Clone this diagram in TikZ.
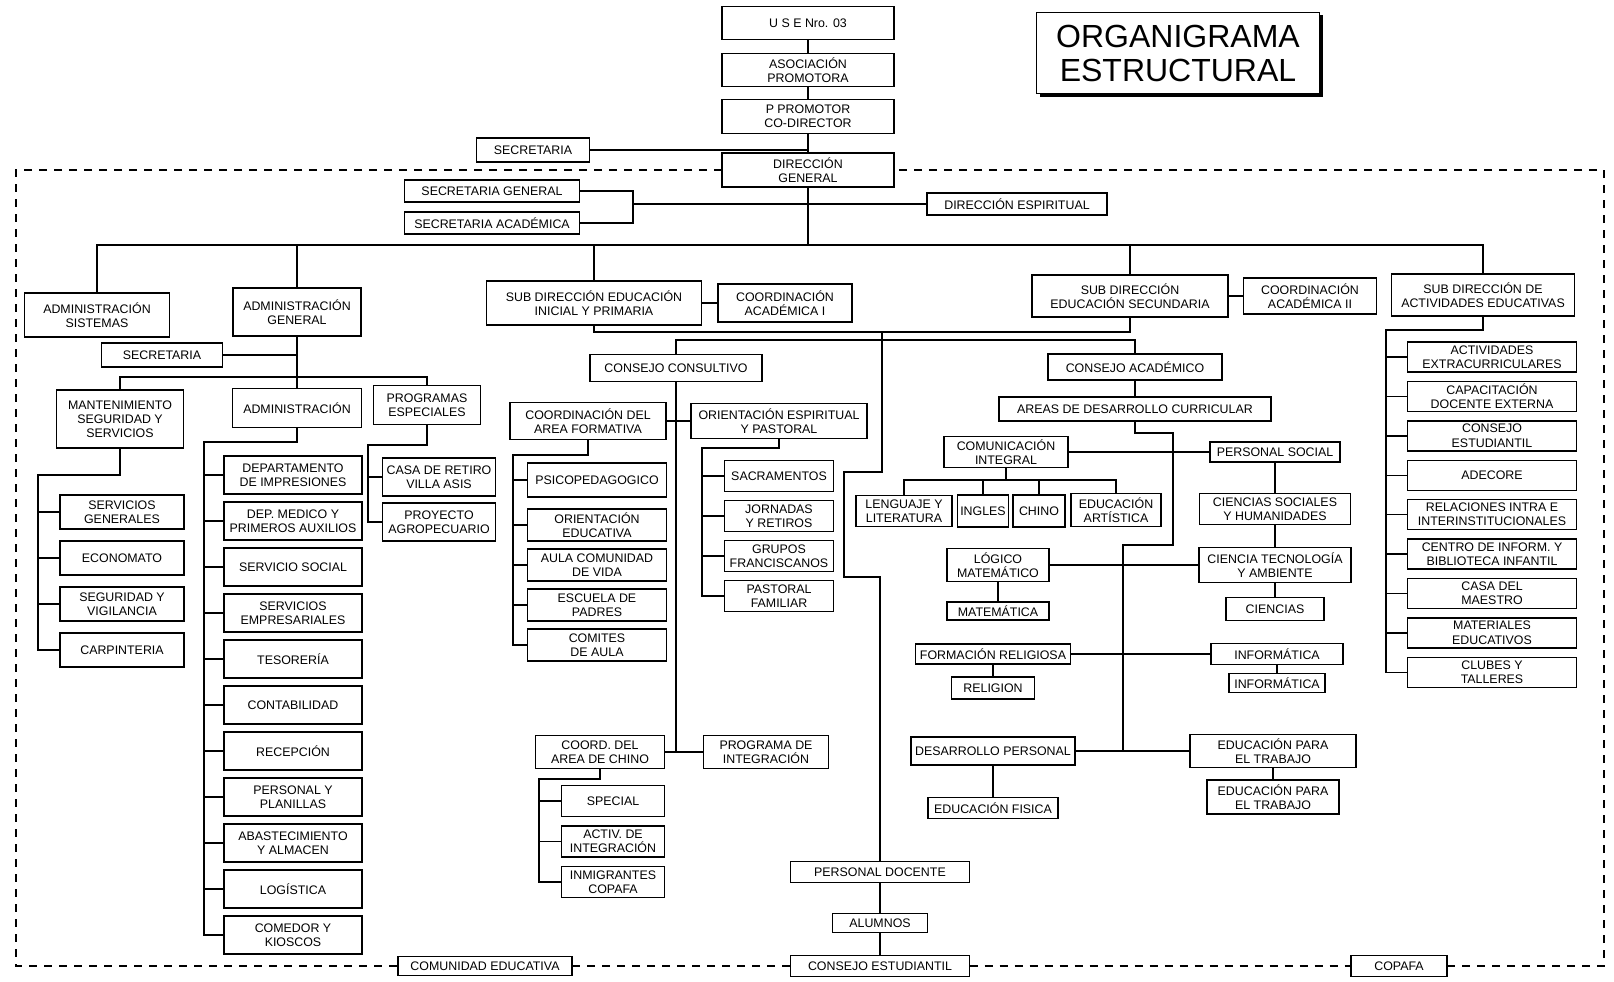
\documentclass[tikz,border=0pt]{standalone}
\usepackage{fontspec}
\setmainfont{Liberation Sans}
\usetikzlibrary{positioning,shadows}
\tikzset{
    orgbox/.style={draw, line width=1.4pt, align=center, inner sep=1.5pt, outer sep=0pt, fill=white},
    orgline/.style={line width=1.4pt},
    orgdashed/.style={line width=1.2pt, dash pattern=on 8pt off 7pt}
}

\begin{document}
\begin{tikzpicture}[x=1pt, y=-1pt, font=\fontsize{12.4}{14.2}\selectfont]
        \useasboundingbox (0,0) rectangle (1614,982);

        \node[orgbox, minimum width=172pt, minimum height=33pt] (use) at (808,23) {U S E Nro. 03};
        \node[orgbox, minimum width=172pt, minimum height=33pt, below=14pt of use] (asociacion)
            {ASOCIACIÓN\\PROMOTORA};
        \node[orgbox, minimum width=172pt, minimum height=34pt, below=13pt of asociacion] (promotor)
            {P PROMOTOR\\CO-DIRECTOR};
        \node[orgbox, minimum width=172pt, minimum height=34pt] (direccion) at (808,170)
            {DIRECCIÓN\\GENERAL};
        \node[orgbox, minimum width=113pt, minimum height=24pt] (secretaria) at (533,150) {SECRETARIA};
        \node[orgbox, minimum width=283pt, minimum height=81pt, font=\fontsize{32}{34}\selectfont,
            drop shadow={shadow xshift=3pt, shadow yshift=-3pt, opacity=1, fill=black}] (titulo)
            at (1178,53) {ORGANIGRAMA\\ESTRUCTURAL};

        \node[orgbox, minimum width=175pt, minimum height=22pt] (secgeneral) at (492,191) {SECRETARIA GENERAL};
        \node[orgbox, minimum width=175pt, minimum height=22pt] (secacademica) at (492,223) {SECRETARIA ACADÉMICA};
        \node[orgbox, minimum width=180pt, minimum height=22pt] (espiritual) at (1017,204) {DIRECCIÓN ESPIRITUAL};
        \coordinate (secjoin) at (633,204);
        \coordinate (mainbus) at (0,245);

        \node[orgbox, minimum width=145pt, minimum height=44pt] (adsistemas) at (97,315)
            {ADMINISTRACIÓN\\SISTEMAS};
        \node[orgbox, minimum width=128pt, minimum height=48pt] (adgeneral) at (297,312)
            {ADMINISTRACIÓN\\GENERAL};
        \node[orgbox, minimum width=215pt, minimum height=44pt] (subinicial) at (594,303)
            {SUB DIRECCIÓN EDUCACIÓN\\INICIAL Y PRIMARIA};
        \node[orgbox, minimum width=134pt, minimum height=38pt] (coordi) at (785,303)
            {COORDINACIÓN\\ACADÉMICA I};
        \node[orgbox, minimum width=196pt, minimum height=42pt] (subsecundaria) at (1130,296)
            {SUB DIRECCIÓN\\EDUCACIÓN SECUNDARIA};
        \node[orgbox, minimum width=133pt, minimum height=36pt] (coordii) at (1310,296)
            {COORDINACIÓN\\ACADÉMICA II};
        \node[orgbox, minimum width=183pt, minimum height=42pt] (subactividades) at (1483,295)
            {SUB DIRECCIÓN DE\\ACTIVIDADES EDUCATIVAS};

        \node[orgbox, minimum width=121pt, minimum height=24pt] (secadmin) at (162,355) {SECRETARIA};
        \coordinate (adminbus) at (0,377);
        \node[orgbox, minimum width=127pt, minimum height=58pt] (mantenimiento) at (120,419)
            {MANTENIMIENTO\\SEGURIDAD Y\\SERVICIOS};
        \node[orgbox, minimum width=129pt, minimum height=39pt] (administracion) at (297,408) {ADMINISTRACIÓN};
        \node[orgbox, minimum width=107pt, minimum height=39pt] (programas) at (427,405)
            {PROGRAMAS\\ESPECIALES};

        \coordinate (mantspine) at (38,475);
        \node[orgbox, minimum width=124pt, minimum height=34pt] (servgenerales) at (122,512)
            {SERVICIOS\\GENERALES};
        \node[orgbox, minimum width=124pt, minimum height=34pt, below=12pt of servgenerales] (economato)
            {ECONOMATO};
        \node[orgbox, minimum width=124pt, minimum height=34pt, below=12pt of economato] (seguridad)
            {SEGURIDAD Y\\VIGILANCIA};
        \node[orgbox, minimum width=124pt, minimum height=34pt, below=12pt of seguridad] (carpinteria)
            {CARPINTERIA};

        \coordinate (adminspine) at (204,442);
        \node[orgbox, minimum width=138pt, minimum height=38pt] (impresiones) at (293,475)
            {DEPARTAMENTO\\DE IMPRESIONES};
        \node[orgbox, minimum width=138pt, minimum height=38pt, below=8pt of impresiones] (medico)
            {DEP. MEDICO Y\\PRIMEROS AUXILIOS};
        \node[orgbox, minimum width=138pt, minimum height=38pt, below=8pt of medico] (social)
            {SERVICIO SOCIAL};
        \node[orgbox, minimum width=138pt, minimum height=38pt, below=8pt of social] (empresariales)
            {SERVICIOS\\EMPRESARIALES};
        \node[orgbox, minimum width=138pt, minimum height=38pt, below=8pt of empresariales] (tesoreria)
            {TESORERÍA};
        \node[orgbox, minimum width=138pt, minimum height=38pt, below=8pt of tesoreria] (contabilidad)
            {CONTABILIDAD};
        \node[orgbox, minimum width=138pt, minimum height=38pt, below=8pt of contabilidad] (recepcion)
            {RECEPCIÓN};
        \node[orgbox, minimum width=138pt, minimum height=38pt, below=8pt of recepcion] (planillas)
            {PERSONAL Y\\PLANILLAS};
        \node[orgbox, minimum width=138pt, minimum height=38pt, below=8pt of planillas] (almacen)
            {ABASTECIMIENTO\\Y ALMACEN};
        \node[orgbox, minimum width=138pt, minimum height=38pt, below=8pt of almacen] (logistica)
            {LOGÍSTICA};
        \node[orgbox, minimum width=138pt, minimum height=38pt, below=8pt of logistica] (comedor)
            {COMEDOR Y\\KIOSCOS};

        \coordinate (progspine) at (368,445);
        \node[orgbox, minimum width=113pt, minimum height=38pt] (casaretiro) at (439,477)
            {CASA DE RETIRO\\VILLA ASIS};
        \node[orgbox, minimum width=113pt, minimum height=38pt, below=7pt of casaretiro] (agropecuario)
            {PROYECTO\\AGROPECUARIO};

        \coordinate (inicialbus) at (0,332);
        \coordinate (consejobus) at (0,340);
        \node[orgbox, minimum width=172pt, minimum height=27pt] (consultivo) at (676,368) {CONSEJO CONSULTIVO};
        \node[orgbox, minimum width=156pt, minimum height=37pt] (formativa) at (588,421)
            {COORDINACIÓN DEL\\AREA FORMATIVA};
        \node[orgbox, minimum width=176pt, minimum height=35pt] (pastoral) at (779,421)
            {ORIENTACIÓN ESPIRITUAL\\Y PASTORAL};

        \coordinate (formspine) at (513,455);
        \node[orgbox, minimum width=139pt, minimum height=34pt] (psicopedagogico) at (597,480)
            {PSICOPEDAGOGICO};
        \node[orgbox, minimum width=139pt, minimum height=32pt, below=12pt of psicopedagogico] (orientacion)
            {ORIENTACIÓN\\EDUCATIVA};
        \node[orgbox, minimum width=139pt, minimum height=32pt, below=8pt of orientacion] (aula)
            {AULA COMUNIDAD\\DE VIDA};
        \node[orgbox, minimum width=139pt, minimum height=32pt, below=8pt of aula] (escuela)
            {ESCUELA DE\\PADRES};
        \node[orgbox, minimum width=139pt, minimum height=32pt, below=8pt of escuela] (comites)
            {COMITES\\DE AULA};

        \coordinate (pastspine) at (702,448);
        \node[orgbox, minimum width=109pt, minimum height=31pt] (sacramentos) at (779,476) {SACRAMENTOS};
        \node[orgbox, minimum width=109pt, minimum height=31pt, below=9pt of sacramentos] (jornadas)
            {JORNADAS\\Y RETIROS};
        \node[orgbox, minimum width=109pt, minimum height=31pt, below=9pt of jornadas] (grupos)
            {GRUPOS\\FRANCISCANOS};
        \node[orgbox, minimum width=109pt, minimum height=31pt, below=9pt of grupos] (familiar)
            {PASTORAL\\FAMILIAR};

        \node[orgbox, minimum width=129pt, minimum height=33pt] (chino) at (600,752)
            {COORD. DEL\\AREA DE CHINO};
        \node[orgbox, minimum width=125pt, minimum height=33pt] (integracion) at (766,752)
            {PROGRAMA DE\\INTEGRACIÓN};
        \coordinate (chinospine) at (539,779);
        \node[orgbox, minimum width=103pt, minimum height=31pt] (special) at (613,801) {SPECIAL};
        \node[orgbox, minimum width=103pt, minimum height=31pt, below=9.5pt of special] (activ)
            {ACTIV. DE\\INTEGRACIÓN};
        \node[orgbox, minimum width=103pt, minimum height=31pt, below=9.5pt of activ] (inmigrantes)
            {INMIGRANTES\\COPAFA};

        \coordinate (turn1) at (882,472);
        \coordinate (turn2) at (844,577);
        \node[orgbox, minimum width=174pt, minimum height=26pt] (academico) at (1135,367) {CONSEJO ACADÉMICO};
        \node[orgbox, minimum width=272pt, minimum height=24pt] (areas) at (1135,409)
            {AREAS DE DESARROLLO CURRICULAR};
        \coordinate (bend1) at (1173,433);
        \coordinate (bend2) at (1123,545);

        \node[orgbox, minimum width=124pt, minimum height=31pt] (comunicacion) at (1006,452)
            {COMUNICACIÓN\\INTEGRAL};
        \node[orgbox, minimum width=130pt, minimum height=20pt] (personalsocial) at (1275,452) {PERSONAL SOCIAL};
        \coordinate (combus) at (0,480);
        \node[orgbox, minimum width=96pt, minimum height=31pt] (lenguaje) at (904,511) {LENGUAJE Y\\LITERATURA};
        \node[orgbox, minimum width=51pt, minimum height=32pt] (ingles) at (983,511) {INGLES};
        \node[orgbox, minimum width=52pt, minimum height=32pt] (chinoarea) at (1039,511) {CHINO};
        \node[orgbox, minimum width=90pt, minimum height=33pt] (artistica) at (1116,510) {EDUCACIÓN\\ARTÍSTICA};

        \node[orgbox, minimum width=151pt, minimum height=31pt] (sociales) at (1275,509)
            {CIENCIAS SOCIALES\\Y HUMANIDADES};
        \node[orgbox, minimum width=152pt, minimum height=35pt] (tecnologia) at (1275,565)
            {CIENCIA TECNOLOGÍA\\Y AMBIENTE};
        \node[orgbox, minimum width=98pt, minimum height=23pt] (ciencias) at (1275,609) {CIENCIAS};
        \node[orgbox, minimum width=102pt, minimum height=33pt] (logico) at (998,565) {LÓGICO\\MATEMÁTICO};
        \node[orgbox, minimum width=102pt, minimum height=18pt] (matematica) at (998,611) {MATEMÁTICA};
        \node[orgbox, minimum width=155pt, minimum height=20pt] (religiosa) at (993,654) {FORMACIÓN RELIGIOSA};
        \node[orgbox, minimum width=83pt, minimum height=22pt] (religion) at (993,688) {RELIGION};
        \node[orgbox, minimum width=132pt, minimum height=21pt] (informatica) at (1277,654) {INFORMÁTICA};
        \node[orgbox, minimum width=96pt, minimum height=19pt] (informaticab) at (1277,683) {INFORMÁTICA};
        \node[orgbox, minimum width=164pt, minimum height=28pt] (desarrollo) at (993,751) {DESARROLLO PERSONAL};
        \node[orgbox, minimum width=130pt, minimum height=21pt] (fisica) at (993,808) {EDUCACIÓN FISICA};
        \node[orgbox, minimum width=166pt, minimum height=33pt] (trabajo) at (1273,751)
            {EDUCACIÓN PARA\\EL TRABAJO};
        \node[orgbox, minimum width=132pt, minimum height=34pt] (trabajob) at (1273,797)
            {EDUCACIÓN PARA\\EL TRABAJO};

        \node[orgbox, minimum width=179pt, minimum height=21pt] (docente) at (880,872) {PERSONAL DOCENTE};
        \node[orgbox, minimum width=95pt, minimum height=19pt] (alumnos) at (880,923) {ALUMNOS};
        \node[orgbox, minimum width=179pt, minimum height=21pt] (estudiantil) at (880,966) {CONSEJO ESTUDIANTIL};
        \node[orgbox, minimum width=174pt, minimum height=19pt] (comunidad) at (485,966) {COMUNIDAD EDUCATIVA};
        \node[orgbox, minimum width=96pt, minimum height=21pt] (copafa) at (1399,966) {COPAFA};

        \coordinate (actspine) at (1386,330);
        \node[orgbox, minimum width=169pt, minimum height=30pt] (extracurriculares) at (1492,357)
            {ACTIVIDADES\\EXTRACURRICULARES};
        \node[orgbox, minimum width=169pt, minimum height=30pt, below=9.4pt of extracurriculares] (capacitacion)
            {CAPACITACIÓN\\DOCENTE EXTERNA};
        \node[orgbox, minimum width=169pt, minimum height=30pt, below=9.4pt of capacitacion] (consejoest)
            {CONSEJO\\ESTUDIANTIL};
        \node[orgbox, minimum width=169pt, minimum height=30pt, below=9.4pt of consejoest] (adecore)
            {ADECORE};
        \node[orgbox, minimum width=169pt, minimum height=30pt, below=9.4pt of adecore] (relaciones)
            {RELACIONES INTRA E\\INTERINSTITUCIONALES};
        \node[orgbox, minimum width=169pt, minimum height=30pt, below=9.4pt of relaciones] (centro)
            {CENTRO DE INFORM. Y\\BIBLIOTECA INFANTIL};
        \node[orgbox, minimum width=169pt, minimum height=30pt, below=9.4pt of centro] (maestro)
            {CASA DEL\\MAESTRO};
        \node[orgbox, minimum width=169pt, minimum height=30pt, below=9.4pt of maestro] (materiales)
            {MATERIALES\\EDUCATIVOS};
        \node[orgbox, minimum width=169pt, minimum height=30pt, below=9.4pt of materiales] (clubes)
            {CLUBES Y\\TALLERES};

        \coordinate (frameTL) at (16,170);
        \coordinate (frameBL) at (16,966);
        \coordinate (frameBR) at (1604,966);
        \coordinate (frameTR) at (1604,170);

        \draw[orgline] (use) -- (asociacion);
        \draw[orgline] (asociacion) -- (promotor);
        \draw[orgline] (promotor) -- (direccion);
        \draw[orgline] (secretaria) -- (secretaria -| direccion);
        \draw[orgline] (direccion.south) -- (direccion.south |- mainbus);
        \draw[orgline] (secgeneral.east) -| (secjoin);
        \draw[orgline] (secacademica.east) -| (secjoin);
        \draw[orgline] (secjoin) -- (espiritual.west);
        \draw[orgline] (adsistemas.north) |- (subactividades.north |- mainbus) -- (subactividades.north);
        \draw[orgline] (adgeneral.north) -- (adgeneral.north |- mainbus);
        \draw[orgline] (subinicial.north) -- (subinicial.north |- mainbus);
        \draw[orgline] (subsecundaria.north) -- (subsecundaria.north |- mainbus);
        \draw[orgline] (subinicial) -- (coordi);
        \draw[orgline] (subsecundaria) -- (coordii);

        \draw[orgline] (adgeneral) -- (administracion);
        \draw[orgline] (secadmin) -- (secadmin -| administracion);
        \draw[orgline] (mantenimiento.north) |- (programas.north |- adminbus) -- (programas.north);
        \draw[orgline] (mantenimiento.south) |- (mantspine) |- (carpinteria.west);
        \draw[orgline] (mantspine |- servgenerales) -- (servgenerales.west)
            (mantspine |- economato) -- (economato.west)
            (mantspine |- seguridad) -- (seguridad.west);
        \draw[orgline] (administracion.south) |- (adminspine) |- (comedor.west);
        \draw[orgline] (adminspine |- impresiones) -- (impresiones.west)
            (adminspine |- medico) -- (medico.west)
            (adminspine |- social) -- (social.west)
            (adminspine |- empresariales) -- (empresariales.west)
            (adminspine |- tesoreria) -- (tesoreria.west)
            (adminspine |- contabilidad) -- (contabilidad.west)
            (adminspine |- recepcion) -- (recepcion.west)
            (adminspine |- planillas) -- (planillas.west)
            (adminspine |- almacen) -- (almacen.west)
            (adminspine |- logistica) -- (logistica.west);
        \draw[orgline] (programas.south) |- (progspine) |- (agropecuario.west);
        \draw[orgline] (progspine |- casaretiro) -- (casaretiro.west);

        \draw[orgline] (subinicial.south) |- (subsecundaria.south |- inicialbus) -- (subsecundaria.south);
        \draw[orgline] (consultivo.north) |- (academico.north |- consejobus) -- (academico.north);
        \draw[orgline] (turn1 |- inicialbus) -- (turn1) -| (turn2) -| (docente.north);
        \draw[orgline] (consultivo.south) -- (consultivo.south |- integracion);
        \draw[orgline] (formativa) -- (pastoral);
        \draw[orgline] (chino) -- (integracion);
        \draw[orgline] (formativa.south) |- (formspine) |- (comites.west);
        \draw[orgline] (formspine |- psicopedagogico) -- (psicopedagogico.west)
            (formspine |- orientacion) -- (orientacion.west)
            (formspine |- aula) -- (aula.west)
            (formspine |- escuela) -- (escuela.west);
        \draw[orgline] (pastoral.south) |- (pastspine) |- (familiar.west);
        \draw[orgline] (pastspine |- sacramentos) -- (sacramentos.west)
            (pastspine |- jornadas) -- (jornadas.west)
            (pastspine |- grupos) -- (grupos.west);
        \draw[orgline] (chino.south) |- (chinospine) |- (inmigrantes.west);
        \draw[orgline] (chinospine |- special) -- (special.west)
            (chinospine |- activ) -- (activ.west);

        \draw[orgline] (academico) -- (areas);
        \draw[orgline] (areas.south) |- (bend1) |- (bend2) -- (bend2 |- desarrollo);
        \draw[orgline] (comunicacion) -- (personalsocial);
        \draw[orgline] (logico) -- (tecnologia);
        \draw[orgline] (religiosa) -- (informatica);
        \draw[orgline] (desarrollo) -- (trabajo);
        \draw[orgline] (comunicacion.south) -- (comunicacion.south |- combus);
        \draw[orgline] (lenguaje.north) |- (artistica.north |- combus) -- (artistica.north);
        \draw[orgline] (ingles.north) -- (ingles.north |- combus)
            (chinoarea.north) -- (chinoarea.north |- combus);
        \draw[orgline] (personalsocial) -- (sociales) -- (tecnologia) -- (ciencias);
        \draw[orgline] (logico) -- (matematica);
        \draw[orgline] (religiosa) -- (religion);
        \draw[orgline] (informatica) -- (informaticab);
        \draw[orgline] (desarrollo) -- (fisica);
        \draw[orgline] (trabajo) -- (trabajob);
        \draw[orgline] (docente) -- (alumnos) -- (estudiantil);

        \draw[orgline] (subactividades.south) |- (actspine) |- (clubes.west);
        \draw[orgline] (actspine |- extracurriculares) -- (extracurriculares.west)
            (actspine |- capacitacion) -- (capacitacion.west)
            (actspine |- consejoest) -- (consejoest.west)
            (actspine |- adecore) -- (adecore.west)
            (actspine |- relaciones) -- (relaciones.west)
            (actspine |- centro) -- (centro.west)
            (actspine |- maestro) -- (maestro.west)
            (actspine |- materiales) -- (materiales.west);

        \draw[orgdashed] (direccion.west) -- (frameTL) -- (frameBL) -- (comunidad.west);
        \draw[orgdashed] (comunidad.east) -- (estudiantil.west);
        \draw[orgdashed] (estudiantil.east) -- (copafa.west);
        \draw[orgdashed] (copafa.east) -- (frameBR) -- (frameTR) -- (direccion.east);
    \end{tikzpicture}
\end{document}
